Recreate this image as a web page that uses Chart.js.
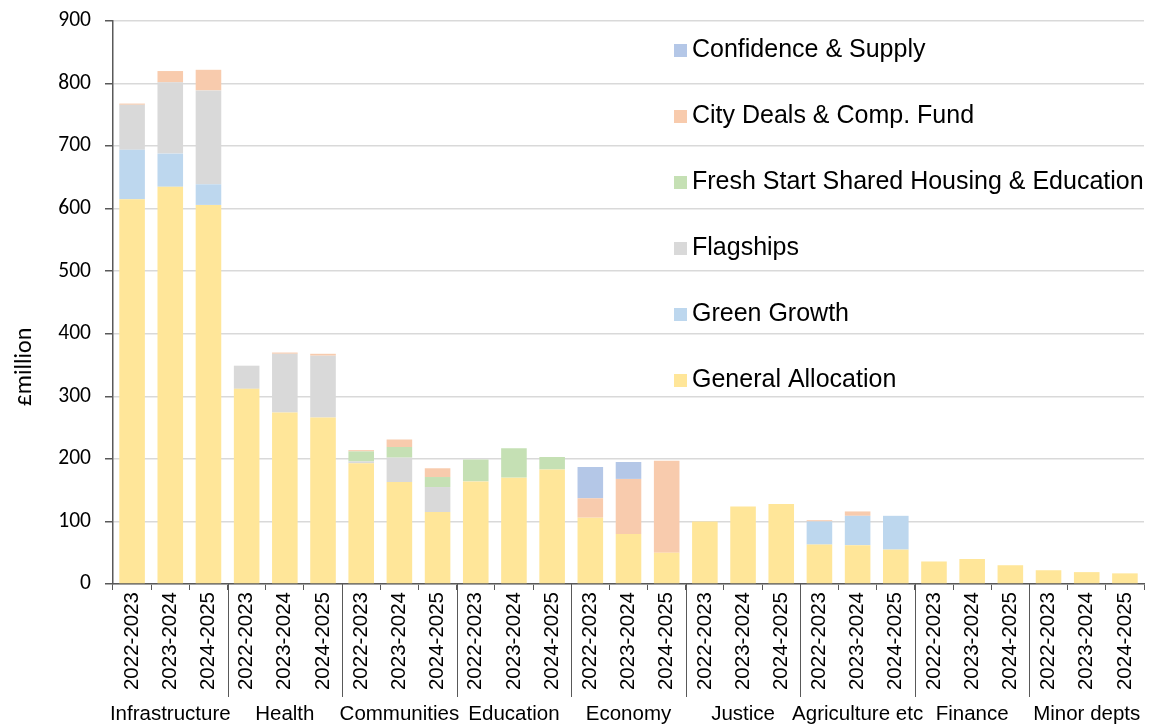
<!DOCTYPE html>
<html>
<head>
<meta charset="utf-8">
<script src="https://cdn.jsdelivr.net/npm/chart.js@4"></script>
<style>
  html, body { margin: 0; padding: 0; background: #ffffff; }
  #wrap { width: 1155px; height: 725px; position: relative; }
</style>
</head>
<body>
<div id="wrap"><canvas id="c" width="1155" height="725"></canvas></div>
<script>
// ---- Data ----
const years = ['2022-2023', '2023-2024', '2024-2025'];
const departments = ['Infrastructure', 'Health', 'Communities', 'Education', 'Economy', 'Justice', 'Agriculture etc', 'Finance', 'Minor depts'];
const yTicks = [0, 100, 200, 300, 400, 500, 600, 700, 800, 900];

const generalAllocation = [615, 635, 606, 312, 274, 266, 193, 163, 115, 164, 170, 183, 106, 80, 50, 100, 124, 128, 63, 62, 55, 36, 40, 30, 22, 19, 17];
const greenGrowth       = [79, 53, 33, 0, 0, 0, 0, 0, 0, 0, 0, 0, 0, 0, 0, 0, 0, 0, 37, 47, 54, 0, 0, 0, 0, 0, 0];
const flagships         = [72, 114, 150, 37, 94, 99, 3, 39, 40, 0, 0, 0, 0, 0, 0, 0, 0, 0, 0, 0, 0, 0, 0, 0, 0, 0, 0];
const freshStart        = [0, 0, 0, 0, 0, 0, 16, 17, 16, 35, 47, 20, 0, 0, 0, 0, 0, 0, 0, 0, 0, 0, 0, 0, 0, 0, 0];
const cityDeals         = [2, 18, 33, 0, 2, 3, 2, 12, 14, 0, 0, 0, 31, 88, 147, 0, 0, 0, 2, 7, 0, 0, 0, 0, 0, 0, 0];
const confidenceSupply  = [0, 0, 0, 0, 0, 0, 0, 0, 0, 0, 0, 0, 50, 27, 0, 0, 0, 0, 0, 0, 0, 0, 0, 0, 0, 0, 0];

const categoryLabels = departments.flatMap(() => years);

// ---- Styles ----
const AXIS_COLOR = '#595959';
const GRID_COLOR = '#d9d9d9';
const ARIAL = '"Liberation Sans", Arial, sans-serif';
const CAL = 'Carlito, Calibri, Lato, sans-serif';

const groupPlugin = {
  id: 'groupLabels',
  afterDraw(chart) {
    const ctx = chart.ctx;
    const xs = chart.scales.x;
    const yBase = chart.chartArea.bottom;
    ctx.save();
    // separators
    ctx.strokeStyle = AXIS_COLOR;
    ctx.lineWidth = 1;
    for (let i = 0; i < departments.length - 1; i++) {
      const x = Math.round((xs.getPixelForValue(3 * i + 2) + xs.getPixelForValue(3 * i + 3)) / 2) + 0.5;
      ctx.beginPath();
      ctx.moveTo(x, yBase);
      ctx.lineTo(x, 697);
      ctx.stroke();
    }
    // department labels
    ctx.fillStyle = '#000';
    ctx.font = '20.5px ' + ARIAL;
    ctx.textAlign = 'center';
    ctx.textBaseline = 'middle';
    departments.forEach((d, i) => {
      const x = (xs.getPixelForValue(3 * i) + xs.getPixelForValue(3 * i + 2)) / 2;
      ctx.fillText(d, x, 714);
    });
    // y title
    ctx.save();
    ctx.translate(25, 367);
    ctx.rotate(-Math.PI / 2);
    ctx.font = '24px ' + CAL;
    ctx.fillText('£million', 0, 0);
    ctx.restore();
    // legend (reverse stack order)
    const ds = chart.data.datasets.slice().reverse();
    ctx.font = '25px ' + ARIAL;
    ctx.textAlign = 'left';
    ds.forEach((d, i) => {
      const cy = 50 + i * 66;
      ctx.fillStyle = d.backgroundColor;
      ctx.fillRect(674, cy - 6, 13, 13);
      ctx.fillStyle = '#000';
      ctx.fillText(d.label, 692, cy);
    });
    ctx.restore();
  }
};

new Chart(document.getElementById('c'), {
  type: 'bar',
  data: {
    labels: categoryLabels,
    datasets: [
      { label: 'General Allocation', data: generalAllocation, backgroundColor: '#FFE699' },
      { label: 'Green Growth', data: greenGrowth, backgroundColor: '#BDD7EE' },
      { label: 'Flagships', data: flagships, backgroundColor: '#D9D9D9' },
      { label: 'Fresh Start Shared Housing & Education', data: freshStart, backgroundColor: '#C5E0B4' },
      { label: 'City Deals & Comp. Fund', data: cityDeals, backgroundColor: '#F8CBAD' },
      { label: 'Confidence & Supply', data: confidenceSupply, backgroundColor: '#B4C7E7' }
    ]
  },
  options: {
    responsive: false,
    animation: false,
    devicePixelRatio: 1,
    layout: { padding: { left: 0, top: 21, right: 11, bottom: 0 } },
    datasets: { bar: { barPercentage: 0.67, categoryPercentage: 1, borderWidth: 0 } },
    plugins: { legend: { display: false }, tooltip: { enabled: false } },
    scales: {
      x: {
        stacked: true,
        afterFit(scale) { scale.height = 141; },
        grid: { display: true, drawOnChartArea: false, drawTicks: true, tickLength: 6, color: AXIS_COLOR, lineWidth: 1, offset: true },
        border: { display: true, color: AXIS_COLOR, width: 1.5 },
        ticks: { autoSkip: false, minRotation: 90, maxRotation: 90, padding: 2, color: '#000', font: { family: ARIAL, size: 20.5 } }
      },
      y: {
        stacked: true,
        min: 0,
        max: 900,
        afterFit(scale) { scale.width = 113; scale.paddingTop = 0; scale.paddingBottom = 0; },
        afterBuildTicks(scale) { scale.ticks = yTicks.map(v => ({ value: v })); },
        grid: { color: GRID_COLOR, lineWidth: 1.5, tickLength: 8, tickColor: AXIS_COLOR, tickWidth: 1.5 },
        border: { display: true, color: AXIS_COLOR, width: 1.5 },
        ticks: { padding: 14, color: '#000', font: { family: CAL, size: 21.5 } }
      }
    }
  },
  plugins: [groupPlugin]
});
</script>
</body>
</html>
